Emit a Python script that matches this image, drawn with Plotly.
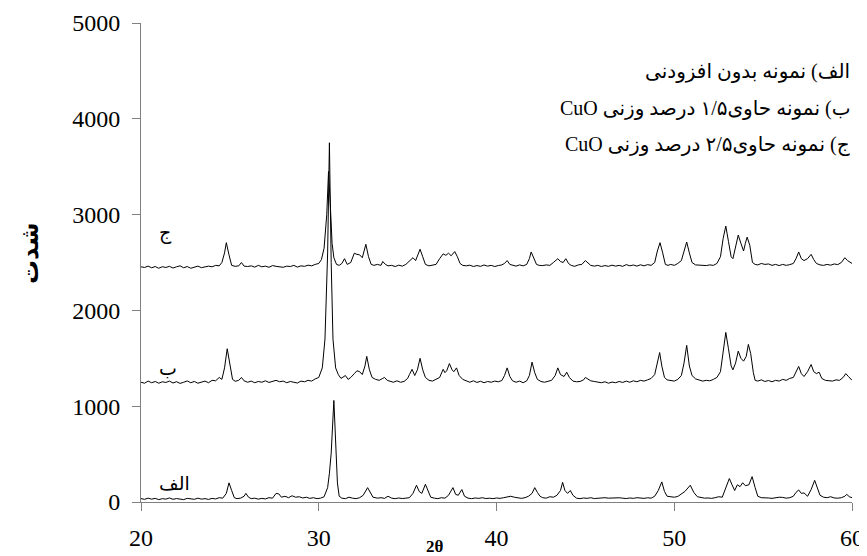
import plotly.graph_objects as go

# ---- data ----
alef_x = [20.0,20.2,20.4,20.6,20.8,21.0,21.2,21.4,21.6,21.8,
          22.0,22.2,22.4,22.6,22.8,23.0,23.2,23.4,23.6,23.8,
          24.0,24.2,24.4,24.6,24.8,24.95,25.1,25.25,25.4,25.6,
          25.8,25.9,26.05,26.2,26.4,26.6,26.8,27.0,27.2,27.4,
          27.6,27.75,27.9,28.1,28.3,28.5,28.7,28.9,29.1,29.3,
          29.5,29.7,29.9,30.1,30.3,30.5,30.6,30.7,30.85,30.95,
          31.05,31.15,31.3,31.5,31.7,31.9,32.1,32.3,32.5,32.75,
          32.9,33.05,33.3,33.5,33.7,33.9,34.1,34.3,34.5,34.7,
          34.9,35.1,35.3,35.5,35.65,35.8,36.0,36.15,36.3,36.5,
          36.7,36.9,37.1,37.3,37.55,37.7,37.85,38.05,38.2,38.4,
          38.6,38.8,39.0,39.2,39.4,39.6,39.8,40.0,40.2,40.4,
          40.6,40.8,41.0,41.2,41.4,41.6,41.8,42.0,42.15,42.3,
          42.45,42.6,42.8,43.0,43.2,43.4,43.6,43.72,43.85,44.0,
          44.15,44.3,44.5,44.7,44.9,45.1,45.3,45.5,45.7,45.9,
          46.1,46.3,46.5,46.7,46.9,47.1,47.3,47.5,47.7,47.9,
          48.1,48.3,48.5,48.7,48.9,49.1,49.3,49.45,49.6,49.8,
          50.0,50.2,50.4,50.6,50.9,51.1,51.3,51.5,51.7,51.9,
          52.1,52.3,52.5,52.7,52.9,53.1,53.25,53.4,53.55,53.7,
          53.85,54.0,54.2,54.38,54.55,54.7,54.9,55.1,55.3,55.5,
          55.7,55.9,56.1,56.3,56.5,56.7,56.85,57.0,57.15,57.3,
          57.5,57.7,57.9,58.05,58.2,58.4,58.6,58.8,59.0,59.2,
          59.4,59.6,59.7,59.85,60.0]
alef_y = [35,28,40,30,38,25,35,30,42,28,
          36,30,25,38,32,28,40,30,35,27,
          38,32,45,40,90,200,120,45,35,40,
          60,90,50,35,40,30,38,32,45,40,
          90,85,50,60,45,65,50,55,42,50,
          38,45,35,40,55,150,300,510,1060,600,
          200,60,40,35,50,40,35,45,70,150,
          100,50,40,45,38,60,40,35,42,36,
          40,45,90,175,110,90,185,120,50,40,
          35,45,40,70,150,80,70,130,60,40,
          35,42,38,45,36,40,35,42,38,45,
          55,60,50,40,38,45,60,90,150,100,
          60,45,40,55,50,70,120,205,120,90,
          120,70,40,35,42,38,45,36,40,38,
          45,40,42,38,44,40,36,42,38,45,
          40,38,44,40,60,120,210,110,60,55,
          50,58,80,110,175,100,55,45,40,42,
          38,45,55,50,150,245,180,120,180,160,
          201,170,180,265,150,60,45,40,42,38,
          45,50,48,40,45,60,100,126,90,95,
          60,130,226,150,70,50,45,55,42,40,
          45,60,80,55,45]

be_x = [20.0,20.2,20.4,20.6,20.8,21.0,21.2,21.4,21.6,21.8,
        22.0,22.2,22.4,22.6,22.8,23.0,23.2,23.4,23.6,23.8,
        24.0,24.2,24.4,24.55,24.7,24.85,25.0,25.15,25.3,25.5,
        25.65,25.8,26.0,26.2,26.4,26.6,26.8,27.0,27.2,27.4,
        27.6,27.8,28.0,28.2,28.4,28.6,28.8,29.0,29.2,29.4,
        29.6,29.8,30.0,30.2,30.35,30.5,30.6,30.7,30.8,30.95,
        31.1,31.25,31.4,31.5,31.65,31.8,32.0,32.15,32.3,32.45,
        32.6,32.7,32.85,33.0,33.2,33.4,33.6,33.7,33.85,34.0,
        34.2,34.4,34.6,34.8,35.0,35.1,35.25,35.4,35.55,35.7,
        35.85,36.0,36.2,36.4,36.6,36.8,37.0,37.1,37.2,37.35,
        37.5,37.6,37.75,37.9,38.1,38.3,38.5,38.7,38.9,39.1,
        39.3,39.5,39.7,39.9,40.1,40.3,40.45,40.6,40.75,40.9,
        41.1,41.3,41.5,41.7,41.85,42.0,42.15,42.3,42.5,42.7,
        42.9,43.1,43.3,43.45,43.6,43.8,43.95,44.1,44.3,44.5,
        44.7,44.9,45.0,45.15,45.3,45.5,45.7,45.9,46.1,46.3,
        46.5,46.7,46.9,47.1,47.3,47.5,47.7,47.9,48.1,48.3,
        48.5,48.7,48.9,49.05,49.18,49.3,49.45,49.6,49.8,50.0,
        50.2,50.4,50.55,50.7,50.85,51.0,51.2,51.4,51.6,51.8,
        52.0,52.2,52.4,52.6,52.75,52.9,53.05,53.2,53.3,53.45,
        53.6,53.75,53.9,54.05,54.17,54.3,54.45,54.55,54.7,54.9,
        55.1,55.3,55.5,55.7,55.9,56.1,56.3,56.5,56.7,56.85,
        57.0,57.15,57.3,57.5,57.7,57.85,58.0,58.15,58.3,58.5,
        58.7,58.9,59.1,59.3,59.5,59.65,59.8,60.0]
be_y = [1250,1240,1262,1245,1258,1240,1255,1248,1262,1242,
        1256,1238,1250,1264,1245,1258,1240,1255,1262,1245,
        1270,1265,1300,1280,1400,1600,1420,1280,1260,1270,
        1300,1265,1250,1262,1245,1258,1250,1265,1248,1260,
        1270,1255,1262,1245,1258,1250,1242,1262,1255,1270,
        1262,1285,1300,1400,1700,2600,3750,2500,1700,1400,
        1330,1290,1310,1320,1280,1300,1340,1370,1360,1330,
        1420,1520,1380,1300,1280,1270,1290,1300,1270,1262,
        1250,1265,1250,1258,1290,1330,1385,1320,1380,1500,
        1380,1300,1270,1262,1280,1300,1385,1350,1370,1445,
        1380,1360,1400,1320,1280,1262,1250,1265,1248,1260,
        1245,1258,1250,1262,1255,1268,1320,1400,1310,1265,
        1250,1262,1245,1265,1320,1460,1350,1280,1258,1250,
        1262,1270,1320,1400,1330,1310,1355,1300,1262,1255,
        1258,1275,1300,1280,1265,1258,1250,1245,1255,1240,
        1252,1245,1258,1248,1262,1250,1265,1255,1270,1262,
        1275,1290,1330,1450,1560,1420,1300,1275,1268,1262,
        1280,1320,1450,1635,1420,1320,1285,1270,1262,1270,
        1265,1280,1300,1360,1550,1770,1600,1420,1380,1450,
        1575,1500,1470,1520,1645,1550,1350,1270,1262,1275,
        1258,1268,1255,1270,1262,1280,1270,1290,1300,1360,
        1415,1340,1310,1360,1435,1360,1340,1355,1290,1270,
        1265,1262,1275,1270,1300,1340,1310,1270]

jim_x = [20.0,20.2,20.4,20.6,20.8,21.0,21.2,21.4,21.6,21.8,
         22.0,22.2,22.4,22.6,22.8,23.0,23.2,23.4,23.6,23.8,
         24.0,24.2,24.4,24.55,24.7,24.8,24.95,25.1,25.3,25.5,
         25.65,25.8,26.0,26.2,26.4,26.6,26.8,27.0,27.2,27.4,
         27.6,27.8,28.0,28.2,28.4,28.6,28.8,29.0,29.2,29.4,
         29.6,29.8,30.0,30.15,30.3,30.45,30.55,30.65,30.75,30.85,
         31.0,31.15,31.3,31.45,31.6,31.8,32.0,32.15,32.3,32.45,
         32.55,32.65,32.8,32.95,33.1,33.3,33.5,33.6,33.75,33.9,
         34.1,34.3,34.5,34.7,34.9,35.1,35.3,35.45,35.6,35.7,
         35.85,36.0,36.2,36.4,36.6,36.8,37.0,37.15,37.3,37.45,
         37.65,37.8,37.95,38.1,38.3,38.5,38.7,38.9,39.1,39.3,
         39.5,39.7,39.9,40.1,40.3,40.45,40.6,40.75,40.9,41.1,
         41.3,41.5,41.7,41.85,41.95,42.1,42.25,42.4,42.6,42.8,
         43.0,43.2,43.45,43.6,43.75,43.9,44.05,44.2,44.4,44.6,
         44.8,45.0,45.15,45.3,45.5,45.7,45.9,46.1,46.3,46.5,
         46.7,46.9,47.1,47.3,47.5,47.7,47.9,48.1,48.3,48.5,
         48.7,48.9,49.05,49.2,49.35,49.5,49.65,49.8,50.0,50.2,
         50.4,50.55,50.7,50.85,51.0,51.2,51.4,51.6,51.8,52.0,
         52.2,52.4,52.6,52.75,52.9,53.05,53.2,53.3,53.45,53.6,
         53.75,53.9,54.0,54.1,54.25,54.4,54.55,54.7,54.9,55.1,
         55.3,55.5,55.7,55.9,56.1,56.3,56.5,56.7,56.85,57.0,
         57.15,57.3,57.5,57.7,57.85,58.0,58.2,58.4,58.6,58.8,
         59.0,59.2,59.4,59.6,59.75,60.0]
jim_y = [2455,2448,2462,2445,2458,2440,2456,2448,2460,2442,
         2455,2465,2445,2458,2440,2455,2462,2446,2458,2462,
         2455,2470,2465,2500,2600,2707,2580,2470,2460,2465,
         2500,2462,2458,2465,2452,2470,2455,2462,2450,2468,
         2460,2455,2450,2462,2458,2470,2452,2465,2460,2472,
         2465,2480,2490,2530,2650,3000,3450,3100,2700,2550,
         2480,2470,2490,2540,2480,2500,2597,2585,2580,2550,
         2620,2690,2560,2480,2470,2480,2470,2510,2480,2465,
         2470,2458,2472,2462,2480,2510,2550,2520,2590,2638,
         2560,2480,2465,2470,2480,2540,2590,2575,2597,2570,
         2614,2560,2490,2470,2465,2472,2458,2468,2460,2474,
         2462,2470,2458,2468,2475,2490,2520,2480,2470,2462,
         2475,2465,2480,2540,2610,2540,2480,2470,2468,2475,
         2470,2500,2540,2510,2500,2540,2490,2470,2460,2475,
         2480,2520,2490,2470,2462,2470,2458,2468,2460,2472,
         2462,2470,2460,2478,2465,2474,2462,2476,2465,2478,
         2470,2500,2620,2707,2600,2480,2470,2480,2470,2490,
         2520,2620,2714,2600,2500,2475,2470,2472,2468,2475,
         2470,2490,2560,2750,2880,2720,2560,2540,2650,2786,
         2700,2620,2700,2765,2680,2500,2480,2475,2490,2480,
         2485,2470,2480,2468,2480,2470,2478,2490,2540,2610,
         2540,2520,2540,2585,2530,2490,2475,2470,2480,2472,
         2485,2478,2500,2550,2520,2490]

x_ticks = [20, 30, 40, 50, 60]
y_ticks = [0, 1000, 2000, 3000, 4000, 5000]

curve_names = ["الف", "ب", "ج"]
curve_label_pos = [(21.86, 200), (21.52, 1400), (21.4, 2810)]

legend_lines = [
    "الف) نمونه بدون افزودنی",
    "ب) نمونه حاوی۱/۵ درصد وزنی CuO",
    "ج) نمونه حاوی۲/۵ درصد وزنی CuO",
]
RLI, PDI = "\u2067", "\u2069"   # right-to-left isolate for Persian lines

SERIF = "Liberation Serif, Times New Roman, DejaVu Sans, serif"

fig = go.Figure()
for xs, ys, nm in [(alef_x, alef_y, curve_names[0]),
                   (be_x, be_y, curve_names[1]),
                   (jim_x, jim_y, curve_names[2])]:
    fig.add_trace(go.Scatter(x=xs, y=ys, mode="lines", name=nm,
                             line=dict(color="black", width=1),
                             showlegend=False, hoverinfo="skip"))

annotations = []
for nm, (ax_, ay_) in zip(curve_names, curve_label_pos):
    annotations.append(dict(x=ax_, y=ay_, xref="x", yref="y", text=nm,
                            showarrow=False, xanchor="center", yanchor="middle",
                            font=dict(family="DejaVu Sans, sans-serif", size=19, color="black")))

legend_y = [0.898, 0.822, 0.747]
for txt, ly in zip(legend_lines, legend_y):
    annotations.append(dict(x=1.0, y=ly, xref="paper", yref="paper",
                            text=RLI + txt + PDI, align="right",
                            showarrow=False, xanchor="right", yanchor="middle",
                            font=dict(family=SERIF, size=20, color="black")))

annotations.append(dict(x=-0.156, y=0.52, xref="paper", yref="paper",
                        text="<b>شدت</b>", textangle=-90, showarrow=False,
                        xanchor="center", yanchor="middle",
                        font=dict(family=SERIF, size=24, color="black")))
annotations.append(dict(x=36.55, y=-0.092, xref="x", yref="paper",
                        text="<b>2θ</b>", showarrow=False,
                        xanchor="center", yanchor="middle",
                        font=dict(family=SERIF, size=17, color="black")))

# page body has an 8px margin, so the figure is 8px smaller than the window
fig.update_layout(
    width=859, height=548,
    margin=dict(l=133, r=15, t=15, b=54, autoexpand=False),
    paper_bgcolor="white", plot_bgcolor="white",
    annotations=annotations,
    font=dict(family=SERIF, size=24, color="black"),
)
fig.update_xaxes(range=[20, 60], tickvals=x_ticks, ticktext=[str(v) for v in x_ticks],
                 showgrid=False, zeroline=False, showline=True, linecolor="#808080",
                 linewidth=1, ticks="outside", ticklen=8, tickcolor="#808080",
                 ticklabelstandoff=6, automargin=False,
                 tickfont=dict(family=SERIF, size=24, color="black"))
fig.update_yaxes(range=[0, 5000], tickvals=y_ticks, ticktext=[str(v) for v in y_ticks],
                 showgrid=False, zeroline=False, showline=True, linecolor="#808080",
                 linewidth=1, ticks="outside", ticklen=8, tickcolor="#808080",
                 ticklabelstandoff=7, automargin=False,
                 tickfont=dict(family=SERIF, size=24, color="black"))

fig.write_html("out.html")
